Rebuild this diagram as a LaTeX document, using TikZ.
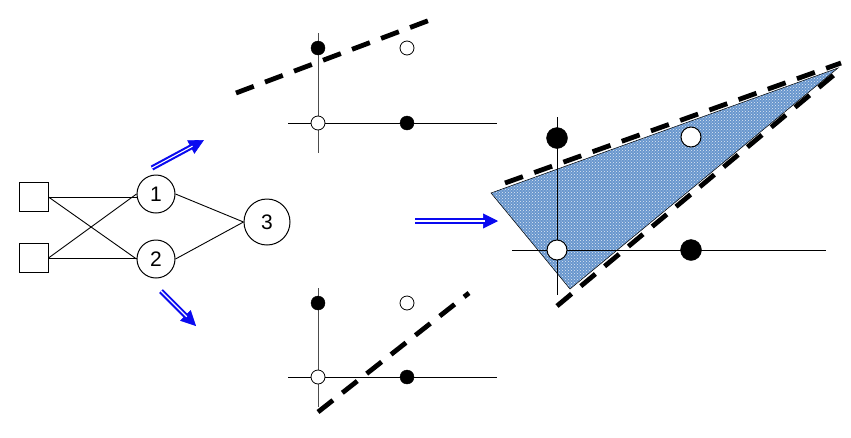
\documentclass[tikz,border=0pt]{standalone}
\usepackage{fontspec}
\setmainfont{Liberation Sans}
\usetikzlibrary{arrows.meta,patterns}
\definecolor{arrowblue}{RGB}{10,10,240}
\definecolor{trifill}{RGB}{104,150,205}
\tikzset{
  inbox/.style={draw, line width=1pt, minimum size=29pt, inner sep=0pt},
  neuron/.style={draw, circle, line width=1pt, minimum size=38pt, inner sep=0pt, font=\fontsize{21}{24}\selectfont},
  wire/.style={line width=0.9pt},
  axis/.style={line width=0.9pt},
  vaxis/.style={line width=0.9pt, black!70},
  filledpt/.style={circle, fill=black, draw=black, minimum size=14pt, inner sep=0pt},
  openpt/.style={circle, fill=white, draw=black, line width=0.8pt, minimum size=14pt, inner sep=0pt},
  bigfilled/.style={filledpt, minimum size=21pt},
  bigopen/.style={openpt, line width=1pt, minimum size=20pt},
  boundary/.style={line width=4.8pt, dash pattern=on 19pt off 12pt},
  dblhead/.style={draw=arrowblue, line width=0.6pt, -{Triangle[length=15pt,width=15pt]}},
  dblshaft/.style={draw=arrowblue, line width=2.1pt, double=white, double distance=1.1pt, shorten >=13pt},
}
\begin{document}
\begin{tikzpicture}[x=1pt,y=-1pt]
\useasboundingbox (0,0) rectangle (851,437);

% network
\node[inbox] (s1) at (33.5,197) {};
\node[inbox] (s2) at (33.5,258) {};
\node[neuron] (n1) at (156,194) {1};
\node[neuron] (n2) at (156,259) {2};
\node[neuron, minimum size=46pt] (n3) at (267,222) {3};
\draw[wire] (s1.east) -- (n1.west |- s1.east);
\draw[wire] (s1.east) -- (n2.west);
\draw[wire] (s2.east) -- (n1.west);
\draw[wire] (s2.east) -- (n2.west |- s2.east);
\draw[wire] (n1.east) -- (n3.west);
\draw[wire] (n2.east) -- (n3.west);

% blue arrows
\coordinate (a1s) at (152,168); \coordinate (a1e) at (204,140);
\coordinate (a2s) at (161,291); \coordinate (a2e) at (196,326);
\coordinate (a3s) at (415,221); \coordinate (a3e) at (498,221);
\foreach \s/\e in {a1s/a1e,a2s/a2e,a3s/a3e}{
  \draw[dblhead] (\s) -- (\e);
  \draw[dblshaft] (\s) -- (\e);
}

% top plot
\coordinate (tv1) at (318,33); \coordinate (tv2) at (318,153);
\coordinate (th1) at (288,123); \coordinate (th2) at (497,123);
\draw[vaxis] (tv1) -- (tv2);
\draw[axis] (th1) -- (th2);
\coordinate (td1) at (236,93); \coordinate (td2) at (438,17);
\draw[boundary] (td1) -- (td2);
\node[filledpt] (tp1) at (318,48) {};
\node[openpt] (tp2) at (407,48) {};
\node[openpt] (tp3) at (318,123) {};
\node[filledpt] (tp4) at (407,123) {};

% bottom plot
\coordinate (bv1) at (318,288); \coordinate (bv2) at (318,407);
\coordinate (bh1) at (288,377); \coordinate (bh2) at (497,377);
\draw[vaxis] (bv1) -- (bv2);
\draw[axis] (bh1) -- (bh2);
\coordinate (bd1) at (318,412); \coordinate (bd2) at (469,293);
\draw[boundary] (bd1) -- (bd2);
\node[filledpt] (bp1) at (318,303) {};
\node[openpt] (bp2) at (407,303) {};
\node[openpt] (bp3) at (318,377) {};
\node[filledpt] (bp4) at (407,377) {};

% right plot
\coordinate (ra) at (491,193); \coordinate (rb) at (570,289); \coordinate (rc) at (838,68);
\fill[trifill] (ra) -- (rb) -- (rc) -- cycle;
\fill[pattern=crosshatch dots, pattern color=white!80!trifill] (ra) -- (rb) -- (rc) -- cycle;
\draw[line width=0.5pt] (ra) -- (rb) -- (rc) -- cycle;
\coordinate (rv1) at (557,117); \coordinate (rv2) at (557,295);
\coordinate (rh1) at (512,250); \coordinate (rh2) at (826,250);
\draw[axis] (rv1) -- (rv2);
\draw[axis] (rh1) -- (rh2);
\coordinate (rd1) at (505,183); \coordinate (rd2) at (841,63);
\coordinate (rd3) at (557,306); \coordinate (rd4) at (841,69);
\draw[boundary] (rd1) -- (rd2);
\draw[boundary] (rd3) -- (rd4);
\node[bigfilled] (rp1) at (557,138) {};
\node[bigopen] (rp2) at (691,137) {};
\node[bigopen] (rp3) at (557,250) {};
\node[bigfilled] (rp4) at (691,250) {};
\end{tikzpicture}
\end{document}
